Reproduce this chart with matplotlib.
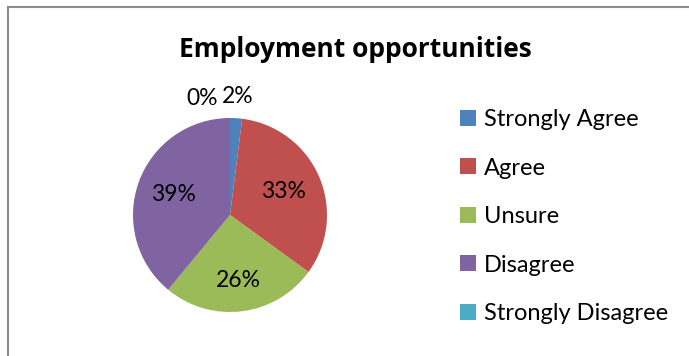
import numpy as np
import matplotlib.pyplot as plt
from matplotlib.lines import Line2D

plt.rcParams['font.family'] = ['Lato', 'DejaVu Sans']

categories = ['Strongly Agree', 'Agree', 'Unsure', 'Disagree', 'Strongly Disagree']
percent = [2, 33, 26, 39, 0]
colors = ['#4F81BD', '#C0504D', '#9BBB59', '#8064A2', '#4BACC6']

# radial position of each percentage label, as a fraction of the pie radius
label_dist = [1.22, 0.6, 0.68, 0.62, 1.2]
label_shift = [(0, 0), (0, 0), (0, 0), (0, 0), (-20, 0)]


def draw_chart(out_file='out.png'):
    W, H = 689, 356
    fig = plt.figure(figsize=(W / 100, H / 100), dpi=100)

    # pie: centre (230, 215) px, radius 97 px
    span = 2.6
    size = 97 * span
    cx, cy = 230, H - 215
    ax = fig.add_axes([(cx - size / 2) / W, (cy - size / 2) / H, size / W, size / H])
    wedges, _ = ax.pie(percent, colors=colors, startangle=90, counterclock=False,
                       radius=1, wedgeprops=dict(linewidth=0))
    ax.set_xlim(-span / 2, span / 2)
    ax.set_ylim(-span / 2, span / 2)
    ax.axis('off')

    for w, p, d, sh in zip(wedges, percent, label_dist, label_shift):
        ang = np.deg2rad((w.theta1 + w.theta2) / 2)
        ax.annotate(f'{p}%', (d * np.cos(ang), d * np.sin(ang)),
                    xytext=sh, textcoords='offset points',
                    ha='center', va='center', fontsize=16.5, color='black')

    fig.text(355 / W, 1 - 57 / H, 'Employment opportunities',
             ha='center', va='baseline', fontsize=19, fontweight='bold',
             family=['Open Sans', 'DejaVu Sans'])

    handles = [Line2D([], [], marker='s', linestyle='none', markersize=11,
                      markerfacecolor=c, markeredgewidth=0) for c in colors]
    fig.legend(handles, categories, loc='upper left',
               bbox_to_anchor=(460 / W, 1 - 109 / H), frameon=False,
               fontsize=17, labelspacing=1.165, handlelength=0.7,
               handletextpad=0.3, borderpad=0, borderaxespad=0)

    # chart area frame (top and left edges)
    fig.add_artist(Line2D([8 / W, 8 / W], [0, 1 - 7 / H], transform=fig.transFigure,
                          color='#8c8c8c', linewidth=1.5))
    fig.add_artist(Line2D([8 / W, 1], [1 - 7 / H, 1 - 7 / H], transform=fig.transFigure,
                          color='#8c8c8c', linewidth=1.5))

    fig.savefig(out_file, dpi=100)


if __name__ == '__main__':
    draw_chart()
